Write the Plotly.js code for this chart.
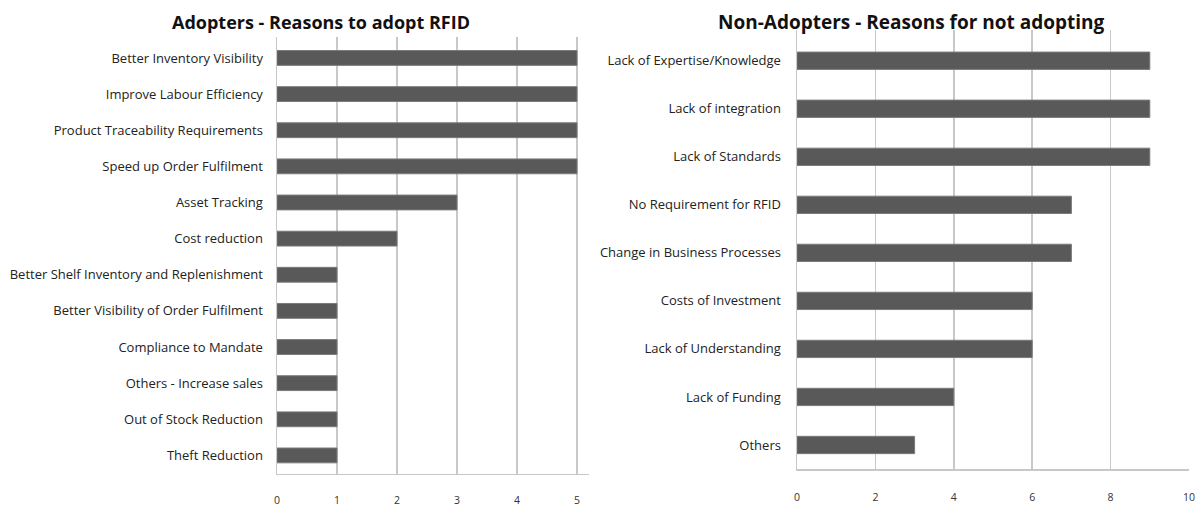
<!DOCTYPE html>
<html>
<head>
<meta charset="utf-8">
<script src="https://cdn.plot.ly/plotly-3.0.1.min.js"></script>
<style>html,body{margin:0;padding:0;background:#fff;}#chart{width:1200px;height:508px;}</style>
</head>
<body>
<div id="chart"></div>
<script>
const adoptCategories = [
  "Better Inventory Visibility",
  "Improve Labour Efficiency",
  "Product Traceability Requirements",
  "Speed up Order Fulfilment",
  "Asset Tracking",
  "Cost reduction",
  "Better Shelf Inventory and Replenishment",
  "Better Visibility of Order Fulfilment",
  "Compliance to Mandate",
  "Others - Increase sales",
  "Out of Stock Reduction",
  "Theft Reduction"
];
const adoptValues = [5, 5, 5, 5, 3, 2, 1, 1, 1, 1, 1, 1];

const nonAdoptCategories = [
  "Lack of Expertise/Knowledge",
  "Lack of integration",
  "Lack of Standards",
  "No Requirement for RFID",
  "Change in Business Processes",
  "Costs of Investment",
  "Lack of Understanding",
  "Lack of Funding",
  "Others"
];
const nonAdoptValues = [9, 9, 9, 7, 7, 6, 6, 4, 3];

const adoptTicks = [0, 1, 2, 3, 4, 5];
const nonAdoptTicks = [0, 2, 4, 6, 8, 10];

const titleLeft = "Adopters - Reasons to adopt RFID";
const titleRight = "Non-Adopters - Reasons for not adopting";

const W = 1200, H = 508;
const barColor = "#595959";
const gridColor = "#c8c8c8";
const labelFont = {family: "Open Sans, sans-serif", size: 13, color: "#222"};
const tickFont = {family: "Open Sans, sans-serif", size: 10.5, color: "#333"};

const traces = [
  {
    type: "bar", orientation: "h",
    x: adoptValues, y: adoptCategories,
    xaxis: "x", yaxis: "y",
    width: 0.41,
    marker: {color: barColor, line: {color: "#7a7a7a", width: 1}},
    hoverinfo: "x+y"
  },
  {
    type: "bar", orientation: "h",
    x: nonAdoptValues, y: nonAdoptCategories,
    xaxis: "x2", yaxis: "y2",
    width: 0.36,
    marker: {color: barColor, line: {color: "#7a7a7a", width: 1}},
    hoverinfo: "x+y"
  }
];

const layout = {
  width: W, height: H,
  margin: {l: 0, r: 0, t: 0, b: 0},
  paper_bgcolor: "#fff", plot_bgcolor: "#fff",
  showlegend: false,
  bargap: 0.6,
  xaxis: {
    domain: [277 / W, 589 / W],
    range: [0, 5.2],
    tickvals: adoptTicks,
    ticktext: adoptTicks.map(String),
    showgrid: true, gridcolor: gridColor, gridwidth: 1.5,
    zeroline: false,
    showline: true, linecolor: gridColor, linewidth: 1.5,
    ticks: "", ticklabelstandoff: 16,
    tickfont: tickFont,
    anchor: "y"
  },
  yaxis: {
    domain: [(H - 473.5) / H, (H - 37) / H],
    type: "category",
    range: [11.5, -0.58],
    showgrid: false, zeroline: false,
    showline: true, linecolor: gridColor, linewidth: 1.5,
    ticks: "", ticklabelstandoff: 10,
    tickfont: labelFont,
    anchor: "x"
  },
  xaxis2: {
    domain: [797 / W, 1189 / W],
    range: [0, 10],
    tickvals: nonAdoptTicks,
    ticktext: nonAdoptTicks.map(String),
    showgrid: true, gridcolor: gridColor, gridwidth: 1.5,
    zeroline: false,
    showline: true, linecolor: gridColor, linewidth: 1.5,
    ticks: "", ticklabelstandoff: 18,
    tickfont: tickFont,
    anchor: "y2"
  },
  yaxis2: {
    domain: [(H - 469) / H, (H - 30) / H],
    type: "category",
    range: [8.5, -0.64],
    showgrid: false, zeroline: false,
    showline: true, linecolor: gridColor, linewidth: 1.5,
    ticks: "", ticklabelstandoff: 12,
    tickfont: labelFont,
    anchor: "x2"
  },
  annotations: [
    {
      text: "<b>" + titleLeft + "</b>",
      xref: "paper", yref: "paper",
      x: 321 / W, y: (H - 22) / H,
      xanchor: "center", yanchor: "middle",
      showarrow: false,
      font: {family: "Open Sans, sans-serif", size: 18, color: "#111"}
    },
    {
      text: "<b>" + titleRight + "</b>",
      xref: "paper", yref: "paper",
      x: 911 / W, y: (H - 22) / H,
      xanchor: "center", yanchor: "middle",
      showarrow: false,
      font: {family: "Open Sans, sans-serif", size: 19, color: "#111"}
    }
  ]
};

Plotly.newPlot("chart", traces, layout, {displayModeBar: false, staticPlot: true});
</script>
</body>
</html>
